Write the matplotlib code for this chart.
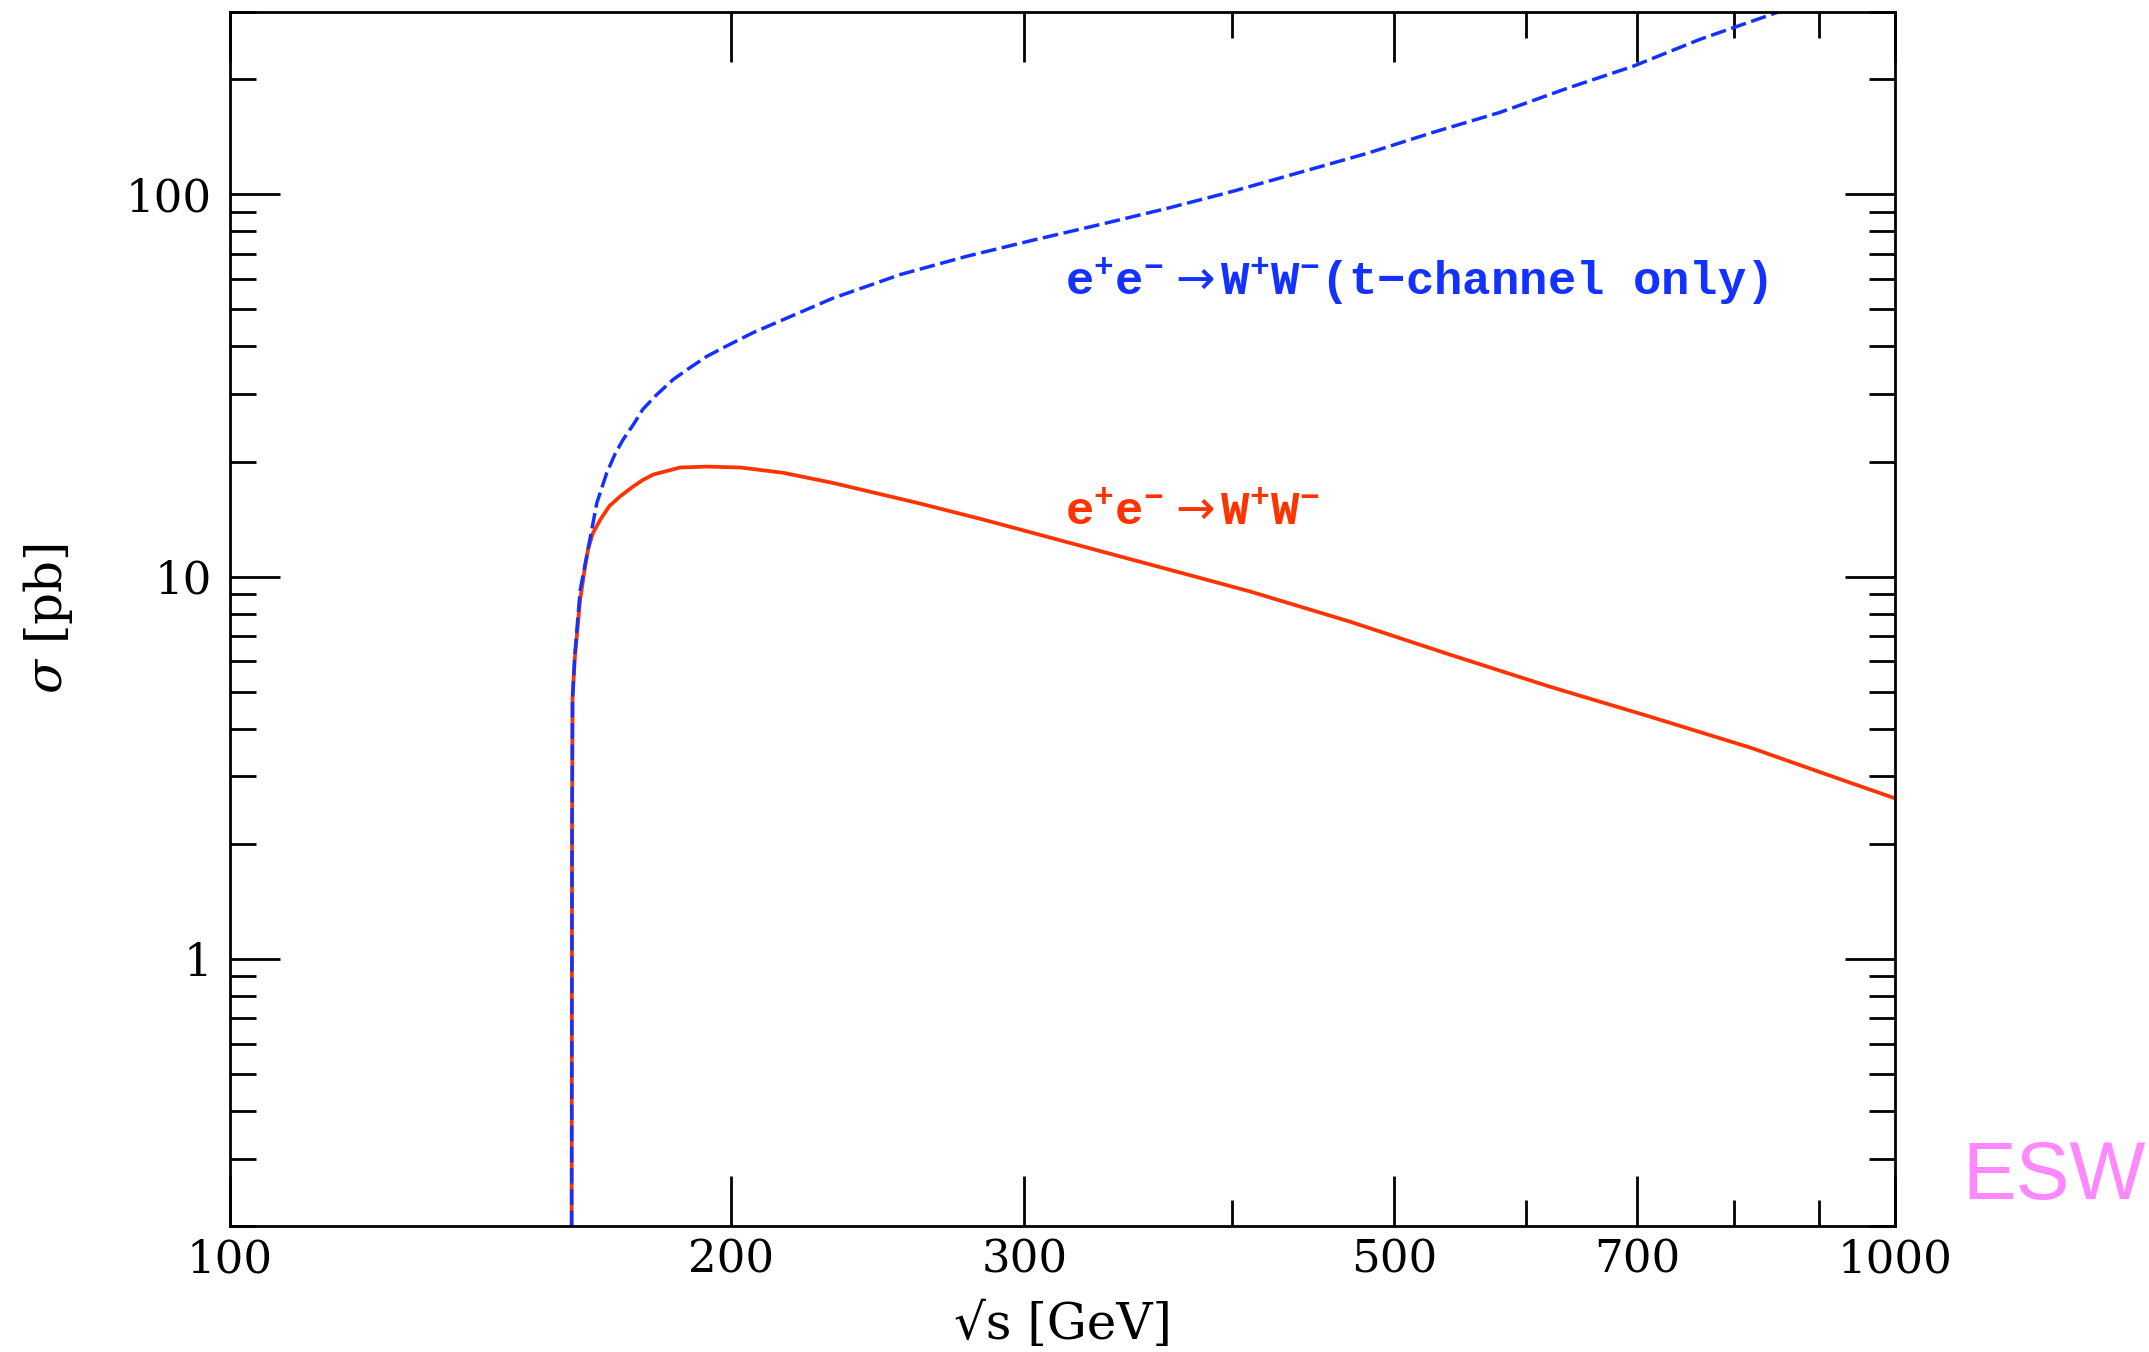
import matplotlib

matplotlib.use("Agg")
import matplotlib.pyplot as plt
from matplotlib.ticker import FixedLocator, NullFormatter

# sqrt(s) [GeV] and sigma [pb]
e_ww = [160.4, 160.5, 160.6, 161.1, 162.3, 163.4, 164.1, 165.2, 166.9, 169.0, 171.5, 174.6,
        177.0, 179.6, 186.4, 193.4, 202.5, 214.8, 230.0, 258.6, 283.4, 310.9, 341.0, 373.6,
        410.0, 470.8, 540.4, 620.7, 712.8, 818.6, 939.7, 1000.0]
sigma_ww = [0.2, 2.2, 4.8, 6.1, 8.7, 10.6, 11.8, 13.0, 14.1, 15.3, 16.2, 17.2,
            17.9, 18.5, 19.3, 19.4, 19.3, 18.7, 17.6, 15.6, 14.1, 12.65, 11.35, 10.2,
            9.14, 7.62, 6.25, 5.15, 4.30, 3.57, 2.89, 2.63]

e_tch = [160.4, 160.5, 160.6, 161.1, 162.3, 164.5, 166.1, 168.4, 170.3, 172.2, 174.7, 177.0,
         180.4, 184.6, 188.9, 193.4, 198.7, 206.2, 230.2, 252.7, 277.1, 303.6,
         333.1, 365.4, 400.3, 439.2, 481.8, 527.9, 579.1, 635.3, 696.0, 763.6, 856.5]
sigma_tch = [0.2, 2.2, 4.8, 6.2, 9.2, 12.5, 15.6, 18.7, 20.9, 22.8, 25.0, 27.4,
             29.9, 32.8, 35.2, 37.7, 40.1, 43.5, 53.5, 61.7, 68.9, 75.9,
             83.4, 91.9, 101.9, 114.2, 128.0, 145.3, 163.9, 189.4, 216.3, 254.5, 303.0]

x_major = [100, 200, 300, 500, 700, 1000]
x_labels = ["100", "200", "300", "500", "700", "1000"]
x_minor = [400, 600, 800, 900]
y_major = [1, 10, 100]
y_labels = ["1", "10", "100"]
y_minor = [0.2, 0.3, 0.4, 0.5, 0.6, 0.7, 0.8, 0.9, 2, 3, 4, 5, 6, 7, 8, 9,
           20, 30, 40, 50, 60, 70, 80, 90, 200, 300]

RED = "#FF3300"
BLUE = "#1432FF"
PINK = "#FF88FF"

plt.rcParams["font.family"] = "DejaVu Serif"
plt.rcParams["mathtext.fontset"] = "custom"
plt.rcParams["mathtext.rm"] = "Liberation Mono:bold"
plt.rcParams["mathtext.it"] = "Liberation Mono:bold"
plt.rcParams["mathtext.bf"] = "Liberation Mono:bold"
plt.rcParams["mathtext.sf"] = "DejaVu Sans"

fig, ax = plt.subplots(figsize=(21.49, 13.52), dpi=100)
fig.subplots_adjust(left=0.1070, right=0.8818, bottom=0.0932, top=0.9911)

ax.plot(e_ww, sigma_ww, color=RED, lw=2.7, solid_joinstyle="round")
ax.plot(e_tch, sigma_tch, color=BLUE, lw=2.5, dashes=(4.5, 1.6))

ax.set_xscale("log"); ax.set_yscale("log")
ax.set_xlim(100, 1000); ax.set_ylim(0.2, 300)

ax.xaxis.set_major_locator(FixedLocator(x_major))
ax.xaxis.set_minor_locator(FixedLocator(x_minor))
ax.xaxis.set_minor_formatter(NullFormatter())
ax.set_xticklabels(x_labels)
ax.yaxis.set_major_locator(FixedLocator(y_major))
ax.yaxis.set_minor_locator(FixedLocator(y_minor))
ax.yaxis.set_minor_formatter(NullFormatter())
ax.set_yticklabels(y_labels)

ax.tick_params(which="both", direction="in", top=True, right=True, width=2, labelsize=32.5)
ax.tick_params(which="major", length=36)
ax.tick_params(which="minor", length=18.5)
ax.tick_params(axis="y", which="major", pad=13)
ax.tick_params(axis="x", which="major", pad=9)
for sp in ax.spines.values():
    sp.set_linewidth(2)

ax.set_xlabel("\u221as [GeV]", fontsize=36)
ax.xaxis.label.set_va("center")
ax.xaxis.set_label_coords(0.5, -0.0815)
ax.set_ylabel(r"$\sigma$ [pb]", fontsize=36, math_fontfamily="dejavuserif")
ax.yaxis.label.set_va("center")
ax.yaxis.set_label_coords(-0.1093, 0.5)

mono = dict(family="Liberation Mono", weight="bold", fontsize=34, va="baseline",
            transform=ax.transAxes)
arrow = r"$\,\mathsf{\rightarrow}$"
ax.text(0.5015, 0.767, "e$^{+}$e$^{-}$" + arrow + "W$^{+}$W$^{-}$(t\u2212channel only)",
        color=BLUE, **mono)
ax.text(0.5015, 0.5774, "e$^{+}$e$^{-}$" + arrow + "W$^{+}$W$^{-}$", color=RED, **mono)

fig.text(0.913, 0.1132, "ESW", family="Liberation Sans", fontsize=58, color=PINK, va="baseline")

fig.savefig("out.png", dpi=100)
